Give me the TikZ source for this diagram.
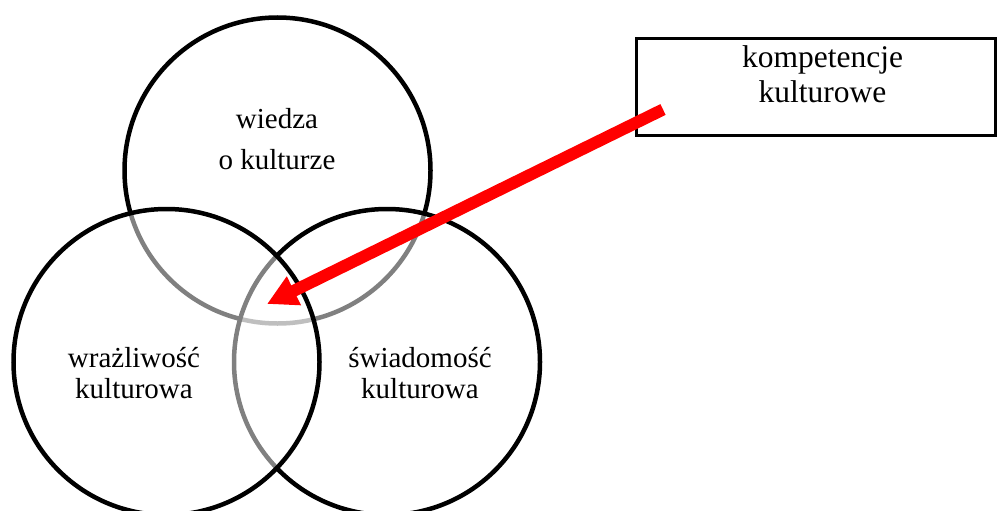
\documentclass[tikz,border=0pt]{standalone}
\usepackage{fontspec}
\setmainfont{Liberation Serif}
\usetikzlibrary{arrows.meta}
\begin{document}
\begin{tikzpicture}[x=1pt,y=-1pt,
  ring/.style={circle, draw=black, line width=4.5pt, fill=white, fill opacity=0.5,
    draw opacity=1, minimum size=306pt, inner sep=0pt},
  ringtext/.style={anchor=base, inner sep=0pt, font=\fontsize{29}{35}\selectfont},
  boxtext/.style={anchor=base, inner sep=0pt, font=\fontsize{31.5}{35}\selectfont},
  framebox/.style={draw=black, line width=3pt},
  pointer/.style={draw=red, line width=12pt,
    -{Triangle[length=30pt,width=30pt]}, fill=red}]
  \useasboundingbox (0,0) rectangle (998,511);
  \begin{scope}
    \clip (0,0) rectangle (998,511);
    % three overlapping circles, each veiling the ones drawn before it
    \node[ring] (knowledge) at (277.5,170.5) {};
    \node[ring] (awareness) at (387,362) {};
    \node[ring] (sensitivity) at (166.5,362) {};
  \end{scope}

  % circle labels
  \node[ringtext] (k1) at (277,128) {wiedza};
  \node[ringtext] (k2) at (277,169) {o kulturze};
  \node[ringtext] (s1) at (134,367) {wrażliwość};
  \node[ringtext] (s2) at (134,398) {kulturowa};
  \node[ringtext] (a1) at (420,367) {świadomość};
  \node[ringtext] (a2) at (420,398) {kulturowa};

  % framed caption
  \draw[framebox] (636.5,38.5) rectangle (995.5,135.5);
  \node[boxtext] (c1) at (822.5,67) {kompetencje};
  \node[boxtext] (c2) at (822.5,102) {kulturowe};

  % pointer into the common area
  \coordinate (from) at (663,109.5);
  \coordinate (core) at (267,304);
  \draw[pointer] (from) -- (core);
\end{tikzpicture}
\end{document}
